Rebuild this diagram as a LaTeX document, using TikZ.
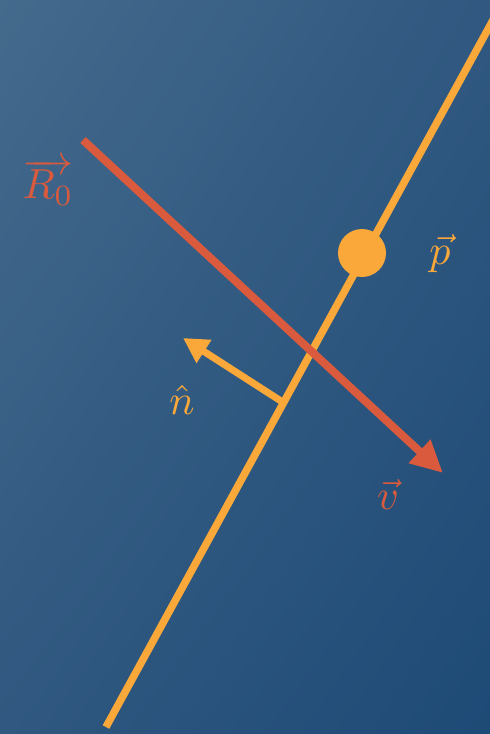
\documentclass[tikz,border=0pt]{standalone}
\usepackage{graphicx}
\usetikzlibrary{arrows.meta,shadings}
\definecolor{bgA}{RGB}{68,106,140}
\definecolor{bgB}{RGB}{48,88,128}
\definecolor{bgC}{RGB}{29,74,118}
\definecolor{orng}{RGB}{250,168,58}
\definecolor{rd}{RGB}{218,90,62}
\newcommand{\biglbl}[1]{\scalebox{4.2}{#1}}
\tikzset{
  lbl/.style={inner sep=0pt},
  plane/.style={orng, line width=7.5pt},
  ray/.style={rd, line width=8pt, -{Triangle[length=32pt,width=30pt]}},
  normal/.style={orng, line width=7pt, -{Triangle[length=25pt,width=26pt]}},
}
\begin{document}
\begin{tikzpicture}[x=1pt,y=-1pt]
\useasboundingbox (0,0) rectangle (490,734);
\shade[upper left=bgA, upper right=bgB, lower left=bgB, lower right=bgC] (0,0) rectangle (490,734);
\begin{scope}
\clip (0,0) rectangle (490,734);
\coordinate (pl1) at (106,727);
\coordinate (pl2) at (504,0);
\draw[plane] (pl1) -- (pl2);
\coordinate (r1) at (83,140);
\coordinate (r2) at (443,473);
\draw[ray] (r1) -- (r2);
\coordinate (nf) at (281,401);
\coordinate (nt) at (183,338);
\draw[normal] (nf) -- (nt);
\fill[orng] (362,253) circle (24);
\end{scope}
\node[lbl, text=rd] (R) at (48,182) {\biglbl{$\overrightarrow{R_0}$}};
\node[lbl, text=orng] (p) at (440,254) {\biglbl{$\vec{p}$}};
\node[lbl, text=orng] (n) at (182,400) {\biglbl{$\hat{n}$}};
\node[lbl, text=rd] (v) at (388,494) {\biglbl{$\vec{v}$}};
\end{tikzpicture}
\end{document}
